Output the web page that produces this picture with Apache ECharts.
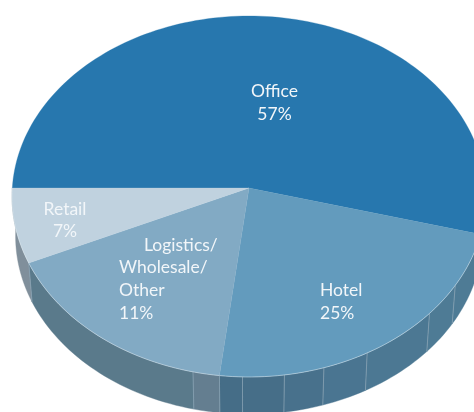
<!DOCTYPE html>
<html>
<head>
<meta charset="utf-8">
<style>html,body{margin:0;padding:0;background:#fff}#c{width:474px;height:412px}</style>
<script src="https://cdn.jsdelivr.net/npm/echarts@6/dist/echarts.min.js"></script>
</head>
<body>
<div id="c"></div>
<script>
// Data
const categories = ['Office', 'Hotel', 'Logistics/\nWholesale/\nOther', 'Retail'];
const printedShares = [57, 25, 11, 7];          // what the labels print
const drawnShares = [54.1, 22.8, 16.4, 6.7];    // what the slices measure on the picture
const topColors = ['#2777ae', '#639bbd', '#82aac4', '#c0d2df'];
// side facets, front seams in degrees clockwise from the top of the disc
const seamAngles = [193.05, 181.5, 171.8, 162.4, 151.4, 132.4, 121.8];
const sideColors = [['#3f6d8c'],
  ['#4e7b95', '#4e7b95', '#4c7893', '#4a7591', '#48718c', '#466e88', '#456d87', '#456d87'],
  ['#647e90', '#5a7a8b'],
  ['#808f9b']];

// Layout of the tilted disc
const apex = [249, 188], A = 236.7, B = 180.1, K = 0.047, START = 270;
const depthY = 40, depthScale = 0.985;
const labelLayout = [
  {x: [274.5, 274.5], y: 91.5, align: 'center'},
  {x: [320, 320], y: 290.5, align: 'left'},
  {x: [144, 119, 119, 119], y: 245, align: 'left'},
  {x: [65, 65], y: 209, align: 'center'}
];
const LINE = 22.7;

function project(deg, lower) {
  const t = deg * Math.PI / 180, u = Math.sin(t), v = -Math.cos(t), w = 1 - K * v;
  const q = lower ? depthScale : 1;
  return [apex[0] + q * A * u / w, apex[1] + (lower ? depthY : 0) + q * B * v / w];
}
function arc(a0, a1, lower) {
  const n = Math.max(2, Math.ceil(Math.abs(a1 - a0) / 1.5)), pts = [];
  for (let i = 0; i <= n; i++) pts.push(project(a0 + (a1 - a0) * i / n, lower));
  return pts;
}
const total = drawnShares.reduce((s, v) => s + v, 0);

function renderItem(params, api) {
  const i = params.dataIndex;
  let before = 0;
  for (let j = 0; j < i; j++) before += drawnShares[j];
  const a0 = START + before / total * 360, a1 = a0 + api.value(0) / total * 360;
  const children = [];

  // side wall: only the part of the slice that faces the viewer (90..270 degrees)
  const norm = a => ((a % 360) + 360) % 360;
  let s0 = norm(a0), s1 = s0 + (a1 - a0);
  if (s0 >= 270) { s0 = Math.max(s0, 360 + 90); if (s1 < 450) s1 = 0; s0 -= 360; s1 -= 360; }
  const lo = Math.max(s0, 90), hi = Math.min(s1, 270);
  if (hi > lo) {
    const cuts = [lo].concat(seamAngles.filter(x => x > lo && x < hi).sort((p, q) => p - q), [hi]);
    const cols = sideColors[i];
    for (let k = 0; k < cuts.length - 1; k++) {
      const pts = arc(cuts[k], cuts[k + 1], false).concat(arc(cuts[k + 1], cuts[k], true));
      const c = cols[Math.min(k, cols.length - 1)];
      children.push({type: 'polygon', z2: 1, shape: {points: pts},
        style: {fill: c, stroke: c, lineWidth: 0.4}});
    }
    for (let k = 1; k < cuts.length - 1; k++) {
      children.push({type: 'polyline', z2: 2, shape: {points: [project(cuts[k], false), project(cuts[k], true)]},
        style: {stroke: '#86a1b3', lineWidth: 0.8, fill: null}});
    }
    children.push({type: 'polyline', z2: 2, shape: {points: [project(lo, false), project(lo, true)]},
      style: {stroke: '#86a1b3', lineWidth: 0.8, fill: null}});
  }
  // top face
  const top = [apex].concat(arc(a0, a1, false));
  children.push({type: 'polygon', z2: 5, shape: {points: top},
    style: {fill: topColors[i], stroke: topColors[i], lineWidth: 0.3}});
  // pale rim along the front edge
  if (hi > lo) {
    children.push({type: 'polyline', z2: 6, shape: {points: arc(lo, hi, false)},
      style: {stroke: 'rgba(225,235,242,0.6)', lineWidth: 0.8, fill: null}});
  }
  // label
  const L = labelLayout[i];
  const lines = categories[i].split('\n').concat([printedShares[i] + '%']);
  lines.forEach((t, n) => {
    children.push({type: 'text', z2: 10, style: {
      text: t, x: L.x[n], y: L.y + n * LINE, align: L.align, verticalAlign: 'middle',
      fill: '#f2f6f9', font: '400 17.5px Lato, sans-serif'}});
  });
  return {type: 'group', children};
}

const chart = echarts.init(document.getElementById('c'), null, {renderer: 'canvas'});
chart.setOption({
  animation: false,
  backgroundColor: '#fff',
  series: [{
    type: 'custom',
    coordinateSystem: 'none',
    clip: false,
    silent: true,
    renderItem,
    data: drawnShares.map((v, i) => ({name: categories[i], value: [v]}))
  }]
});
</script>
</body>
</html>
